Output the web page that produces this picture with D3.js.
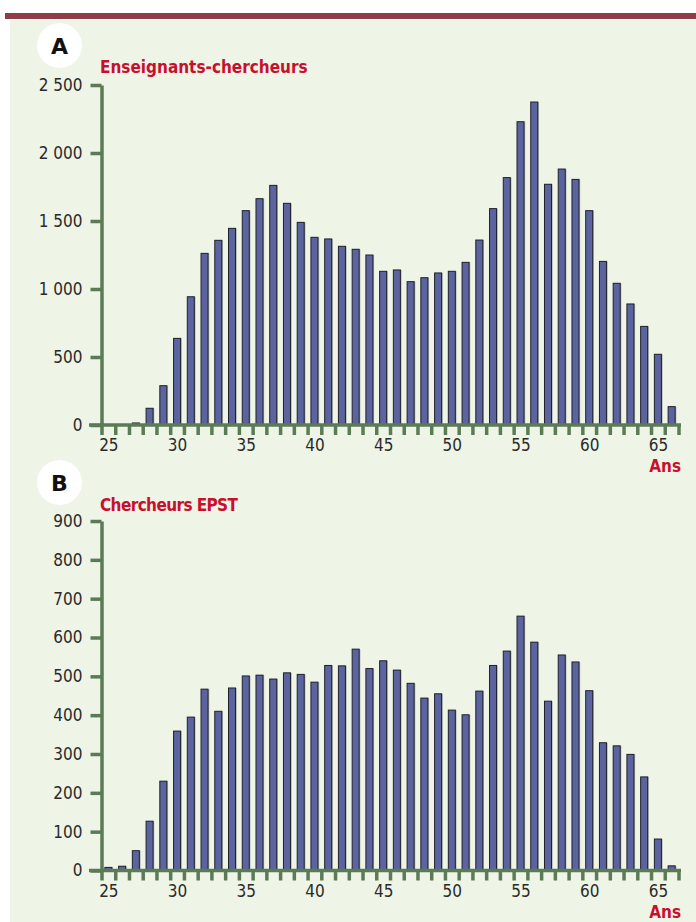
<!DOCTYPE html>
<html>
<head>
<meta charset="utf-8">
<script src="https://cdn.jsdelivr.net/npm/d3@7/dist/d3.min.js"></script>
<style>
  html, body { margin: 0; padding: 0; background: #ffffff; }
  svg { display: block; }
  .num { font-family: "DejaVu Sans Condensed", "DejaVu Sans", sans-serif; font-stretch: condensed; font-size: 17px; fill: #2a2a2a; }
  .ttl { font-family: "DejaVu Sans Condensed", "DejaVu Sans", sans-serif; font-stretch: condensed; font-weight: bold; font-size: 17px; fill: #c8102e; }
</style>
</head>
<body>
<svg id="chart" width="696" height="922"></svg>
<script>
// ── Data ────────────────────────────────────────────────────────────────────
const AGES = d3.range(25, 67);   // 25 … 66 ans

// A : Enseignants-chercheurs (effectifs par âge)
const ENSEIGNANTS = [
  0, 0, 15, 123, 289, 637, 943, 1262, 1358, 1446,
  1576, 1664, 1762, 1630, 1490, 1380, 1368, 1314, 1292, 1250,
  1130, 1140, 1054, 1083, 1118, 1130, 1196, 1360, 1591, 1819,
  2230, 2375, 1770, 1882, 1806, 1576, 1203, 1042, 890, 725,
  520, 135
];

// B : Chercheurs EPST
const CHERCHEURS = [
  8, 11, 51, 127, 230, 359, 395, 467, 410, 470,
  501, 503, 493, 509, 505, 485, 528, 527, 570, 520,
  540, 516, 482, 444, 455, 413, 401, 462, 528, 565,
  655, 588, 436, 555, 537, 463, 329, 321, 299, 241,
  81, 12
];

const X_LABELS   = [25, 30, 35, 40, 45, 50, 55, 60, 65];
const Y_TICKS_A  = [0, 500, 1000, 1500, 2000, 2500];
const Y_TICKS_B  = [0, 100, 200, 300, 400, 500, 600, 700, 800, 900];

// ── Setup ───────────────────────────────────────────────────────────────────
const GREEN = "#5b7b57";
const BAR   = "#5c649f";

const svg = d3.select("#chart");

// frame: maroon rule + pale green panel
svg.append("rect").attr("x", 5).attr("y", 13).attr("width", 691).attr("height", 6).attr("fill", "#8f3d49");
svg.append("rect").attr("x", 10).attr("y", 20).attr("width", 686).attr("height", 902).attr("fill", "#eef4e6");

const fmt = d3.formatLocale({ decimal: ",", thousands: " ", grouping: [3], currency: ["", ""] }).format(",d");

// shared x geometry
const X0 = 101.5, X1 = 678.5;
const x = d3.scaleBand().domain(AGES).range([X0, X1]).paddingInner(0.49).paddingOuter(0.245);
const xl = d3.scaleLinear().domain([24.5, 66.5]).range([X0, X1]);

function drawPanel(p) {
  const g = svg.append("g");
  const y = d3.scaleLinear().domain([0, p.max]).range([p.base, p.top]);

  // letter badge
  g.append("circle").attr("cx", 59.5).attr("cy", p.badgeY).attr("r", 22.5).attr("fill", "#fff");
  g.append("text").attr("x", 59.5).attr("y", p.badgeY + 8)
    .attr("text-anchor", "middle")
    .attr("font-family", "DejaVu Sans, sans-serif").attr("font-weight", "bold")
    .attr("font-size", "22px").attr("fill", "#111")
    .text(p.letter);

  // title
  g.append("text").attr("class", "ttl").attr("x", 100).attr("y", p.titleY)
    .attr("letter-spacing", p.titleLs)
    .text(p.title);

  // bars (with slight grey shadow on the right)
  const data = AGES.map((a, i) => ({ age: a, v: p.values[i] })).filter(d => d.v > 0);
  g.append("g").selectAll("rect").data(data).join("rect")
    .attr("x", d => x(d.age) + 1.2)
    .attr("y", d => y(d.v))
    .attr("width", x.bandwidth())
    .attr("height", d => y(0) - y(d.v))
    .attr("fill", "#9aa196").attr("opacity", 0.8);
  g.append("g").selectAll("rect").data(data).join("rect")
    .attr("x", d => x(d.age))
    .attr("y", d => y(d.v))
    .attr("width", x.bandwidth())
    .attr("height", d => y(0) - y(d.v))
    .attr("fill", BAR).attr("stroke", "#20202c").attr("stroke-width", 1);

  // y axis
  const yAxisG = g.append("g").attr("transform", `translate(${X0},0)`)
    .call(d3.axisLeft(y).tickValues(p.yTicks).tickFormat(fmt).tickSize(11).tickSizeOuter(0).tickPadding(8));
  yAxisG.select(".domain").attr("stroke", GREEN).attr("stroke-width", 3.5);
  yAxisG.selectAll(".tick line").attr("stroke", GREEN).attr("stroke-width", 3.5);
  yAxisG.selectAll(".tick text").attr("class", "num").attr("font-family", null).attr("font-size", null).attr("fill", null);

  // x axis: tick marks on band boundaries
  const xTickG = g.append("g").attr("transform", `translate(0,${p.base})`)
    .call(d3.axisBottom(xl).tickValues(d3.range(24.5, 67, 1)).tickSize(10).tickSizeOuter(0).tickFormat(""));
  xTickG.select(".domain").remove();
  xTickG.selectAll(".tick line").attr("stroke", GREEN).attr("stroke-width", 3.5);

  // x axis line
  g.append("line").attr("x1", 89).attr("x2", 681).attr("y1", p.base).attr("y2", p.base)
    .attr("stroke", GREEN).attr("stroke-width", 3.5);

  // x labels at band centres
  const xLabG = g.append("g").attr("transform", `translate(0,${p.base})`)
    .call(d3.axisBottom(xl).tickValues(X_LABELS).tickSize(0).tickPadding(14).tickFormat(d3.format("d")));
  xLabG.select(".domain").remove();
  xLabG.selectAll(".tick text").attr("class", "num").attr("font-family", null).attr("font-size", null).attr("fill", null);

  // unit
  g.append("text").attr("class", "ttl").attr("x", 681).attr("y", p.base + 47)
    .attr("text-anchor", "end").text("Ans");
}

drawPanel({
  letter: "A", badgeY: 45.5, title: "Enseignants-chercheurs", titleY: 73, titleLs: "0px",
  values: ENSEIGNANTS, max: 2500, base: 425, top: 85, yTicks: Y_TICKS_A
});

drawPanel({
  letter: "B", badgeY: 482.5, title: "Chercheurs EPST", titleY: 511, titleLs: "-0.6px",
  values: CHERCHEURS, max: 900, base: 870.5, top: 521, yTicks: Y_TICKS_B
});
</script>
</body>
</html>
